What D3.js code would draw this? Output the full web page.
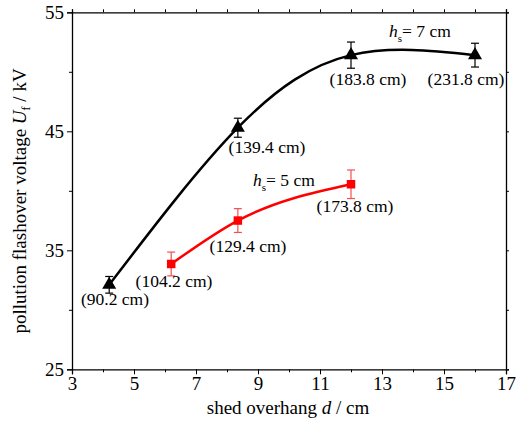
<!doctype html>
<html>
<head>
<style>
  body { margin: 0; background: #fff; }
  svg text { font-family: "Liberation Serif", "DejaVu Serif", serif !important; }
</style>
<script src="https://d3js.org/d3.v7.min.js"></script>
</head>
<body>
<svg width="529" height="424"></svg>
<script>
  // shed overhang d (cm)
  var d7 = [4.2, 8.35, 12, 16];
  var u7 = [32.1, 45.3, 51.4, 51.4];
  var e7 = [0.7, 0.8, 1.1, 1.0];
  var lab7 = ["(90.2 cm)", "(139.4 cm)", "(183.8 cm)", "(231.8 cm)"];

  var d5 = [6.2, 8.35, 12];
  var u5 = [33.85, 37.5, 40.55];
  var e5 = [1.0, 1.0, 1.2];
  var lab5 = ["(104.2 cm)", "(129.4 cm)", "(173.8 cm)"];

  var xTicks = [3, 5, 7, 9, 11, 13, 15, 17];
  var yTicks = [25, 35, 45, 55];

  var serif = "'Liberation Serif', 'DejaVu Serif', serif";
  var svg = d3.select("svg").attr("font-family", serif);
  var mLeft = 72, mRight = 506, mTop = 12.3, mBottom = 369.3;

  var x = d3.scaleLinear().domain([3, 17]).range([mLeft, mRight]);
  var y = d3.scaleLinear().domain([25, 55]).range([mBottom, mTop]);

  function styleTicks(g) {
    g.attr("font-family", serif);
    g.selectAll("text").attr("font-size", 19).attr("fill", "#000");
  }

  // axes
  svg.append("g")
    .attr("transform", "translate(0," + mBottom + ")")
    .call(d3.axisBottom(x).tickValues(xTicks).tickSize(5).tickPadding(2))
    .call(styleTicks);
  svg.append("g")
    .attr("transform", "translate(0," + mBottom + ")")
    .call(d3.axisBottom(x).tickValues(d3.range(4, 17, 2)).tickSize(3).tickFormat(""))
    .call(function (g) { g.select(".domain").remove(); });
  svg.append("g")
    .attr("transform", "translate(" + mLeft + ",0)")
    .call(d3.axisLeft(y).tickValues(yTicks).tickSize(5).tickPadding(3))
    .call(styleTicks);
  svg.append("g")
    .attr("transform", "translate(" + mLeft + ",0)")
    .call(d3.axisLeft(y).tickValues([30, 40, 50]).tickSize(3).tickFormat(""))
    .call(function (g) { g.select(".domain").remove(); });
  // mirrored top/right
  svg.append("g")
    .attr("transform", "translate(0," + mTop + ")")
    .call(d3.axisTop(x).tickValues(d3.range(3, 18)).tickSize(3).tickFormat(""));
  svg.append("g")
    .attr("transform", "translate(" + mRight + ",0)")
    .call(d3.axisRight(y).tickValues(d3.range(25, 56, 5)).tickSize(3).tickFormat(""));
  svg.selectAll(".domain").attr("stroke-width", 1.3);

  // axis titles
  var xt = svg.append("text").attr("x", 288).attr("y", 414)
    .attr("text-anchor", "middle").attr("font-size", 19);
  xt.append("tspan").text("shed overhang ");
  xt.append("tspan").attr("font-style", "italic").text("d");
  xt.append("tspan").text(" / cm");

  var yt = svg.append("text").attr("transform", "translate(26,201) rotate(-90)")
    .attr("text-anchor", "middle").attr("font-size", 19);
  yt.append("tspan").text("pollution flashover voltage ");
  yt.append("tspan").attr("font-style", "italic").text("U");
  yt.append("tspan").attr("font-size", 12).attr("dy", 4).text("f");
  yt.append("tspan").attr("dy", -4).text(" / kV");

  function series(ds, us, es, color, ecolor, shape, size, curve) {
    var pts = ds.map(function (d, i) { return { d: d, u: us[i], e: es[i] }; });
    var line = d3.line().x(function (p) { return x(p.d); }).y(function (p) { return y(p.u); })
      .curve(curve);
    svg.append("path").datum(pts).attr("d", line)
      .attr("fill", "none").attr("stroke", color).attr("stroke-width", 2.5);
    var eb = svg.append("g").attr("stroke", ecolor).attr("stroke-width", 1.2);
    pts.forEach(function (p) {
      var cx = x(p.d);
      eb.append("line").attr("x1", cx).attr("x2", cx).attr("y1", y(p.u - p.e)).attr("y2", y(p.u + p.e));
      eb.append("line").attr("x1", cx - 4).attr("x2", cx + 4).attr("y1", y(p.u - p.e)).attr("y2", y(p.u - p.e));
      eb.append("line").attr("x1", cx - 4).attr("x2", cx + 4).attr("y1", y(p.u + p.e)).attr("y2", y(p.u + p.e));
    });
    svg.append("g").selectAll("path").data(pts).enter().append("path")
      .attr("d", d3.symbol().type(shape).size(size))
      .attr("transform", function (p) { return "translate(" + x(p.d) + "," + y(p.u) + ")"; })
      .attr("fill", color);
  }

  series(d7, u7, e7, "#000", "#000", d3.symbolTriangle, 85, d3.curveNatural);
  series(d5, u5, e5, "#ff0000", "#f05050", d3.symbolSquare, 72, d3.curveMonotoneX);

  // point labels (cm values)
  var lab7pos = [[115, 305], [267, 153], [368, 85], [466, 85]];
  var lab5pos = [[174, 287], [248, 252], [355, 212]];
  function labels(txt, pos) {
    svg.append("g").selectAll("text").data(txt).enter().append("text")
      .attr("x", function (t, i) { return pos[i][0]; })
      .attr("y", function (t, i) { return pos[i][1]; })
      .attr("text-anchor", "middle").attr("font-size", 17.5).text(function (t) { return t; });
  }
  labels(lab7, lab7pos);
  labels(lab5, lab5pos);

  function hsLabel(xp, yp, val) {
    var t = svg.append("text").attr("x", xp).attr("y", yp).attr("font-size", 17.5);
    t.append("tspan").attr("font-style", "italic").text("h");
    t.append("tspan").attr("font-size", 11).attr("dy", 5).text("s");
    t.append("tspan").attr("dy", -5).text("= " + val + " cm");
  }
  hsLabel(389, 37, 7);
  hsLabel(253, 186, 5);
</script>
</body>
</html>
